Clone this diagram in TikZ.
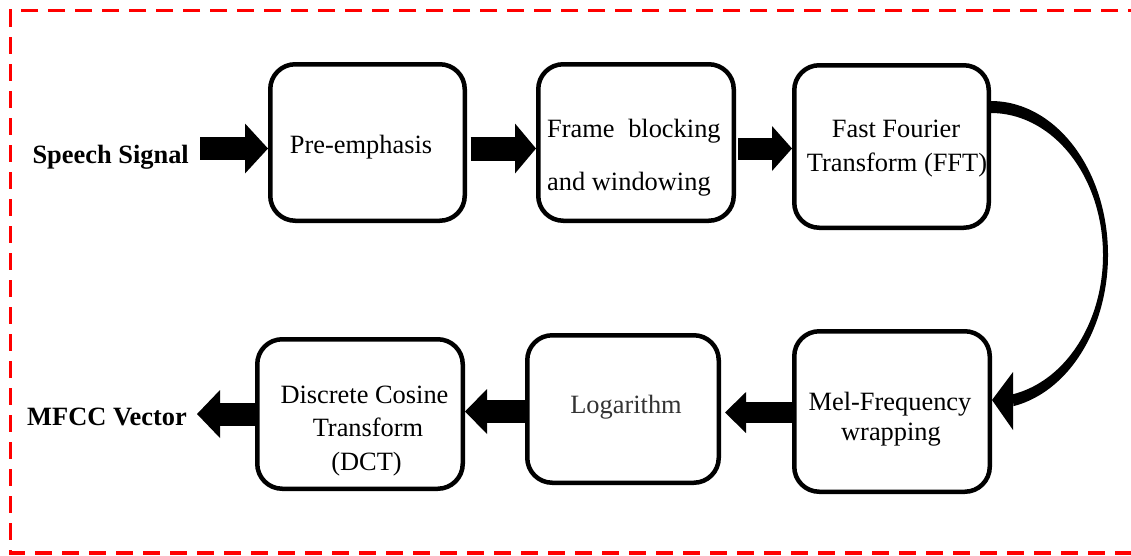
\documentclass[tikz,border=0pt]{standalone}
\usepackage{fontspec}
\setmainfont{Liberation Serif}
\usetikzlibrary{arrows.meta}
\begin{document}
\begin{tikzpicture}[x=1pt,y=-1pt,
  every node/.style={font=\fontsize{26.4}{30}\selectfont},
  box/.style={draw, line width=4.5pt, rounded corners=25pt, inner sep=0pt},
  lbl/.style={anchor=base, inner sep=0pt},
  bold/.style={anchor=base east, inner sep=0pt, font=\fontsize{26.4}{30}\selectfont\bfseries},
  barrow/.style n args={3}{line width=#1, -{Triangle[length=#2, width=#3, line width=0pt]}},
  frame/.style={draw=red, line width=3.5pt, dash pattern=on 17pt off 10pt}
]
\useasboundingbox (0,0) rectangle (1131,555);
\clip (0,0) rectangle (1131,555);
% dashed frame
\draw[frame] (1145,10.7) -- (10.7,10.7) -- (10.7,553) -- (1145,553);

% boxes
\node[box, minimum width=194.5pt, minimum height=156.5pt] (pre)   at (367.5,142.5) {};
\node[box, minimum width=195.5pt, minimum height=156.5pt] (frm)   at (636,142.5) {};
\node[box, minimum width=194.5pt, minimum height=162.5pt] (fft)   at (891.5,146.5) {};
\node[box, minimum width=195.5pt, minimum height=160.5pt] (mel)   at (892,411.5) {};
\node[box, minimum width=191.5pt, minimum height=147.5pt] (log)   at (623,409) {};
\node[box, minimum width=205.5pt, minimum height=149.5pt] (dct)   at (360,414) {};

% texts
\node[bold] (sig)  at (189,163) {Speech Signal};
\node[bold] (mfcc) at (187,425) {MFCC Vector};
\node[lbl] (pret) at (361,153) {Pre-emphasis};
\node[lbl, anchor=base west] (frm1) at (547,137) {Frame\hspace{13.6pt}blocking};
\node[lbl, anchor=base west] (frm2) at (547,190) {and windowing};
\node[lbl] (fft1) at (896,137) {Fast Fourier};
\node[lbl] (fft2) at (897,171) {Transform (FFT)};
\node[lbl] (mel1) at (890,410) {Mel-Frequency};
\node[lbl] (mel2) at (891,440) {wrapping};
\node[lbl, text=black!80] (logt) at (626,413) {Logarithm};
\node[lbl] (dct1) at (364.5,403) {Discrete Cosine};
\node[lbl] (dct2) at (368,436) {Transform};
\node[lbl] (dct3) at (366.5,470) {(DCT)};

% straight block arrows
\draw[barrow={23pt}{23pt}{50pt}] ([xshift=11pt]sig.east |- 0,148.5) -- (pre.west |- 0,148.5);
\draw[barrow={24pt}{21pt}{50pt}] ([xshift=3.5pt]pre.east |- 0,148.5) -- (frm.west |- 0,148.5);
\draw[barrow={22pt}{20pt}{45pt}] ([xshift=2pt]frm.east |- 0,148.5) -- (fft.west |- 0,148.5);
\draw[barrow={21pt}{21pt}{41pt}] (mel.west |- 0,412.5) -- ([xshift=4pt]log.east |- 0,412.5);
\draw[barrow={23pt}{22pt}{45pt}] (log.west |- 0,411.5) -- (dct.east |- 0,411.5);
\draw[barrow={23pt}{23pt}{48pt}] (dct.west |- 0,414) -- ([xshift=10pt]mfcc.east |- 0,414);

% curved arrow FFT -> Mel
\coordinate (tip) at (mel.east |- 0,400);
\fill plot[smooth, samples=80, domain=-90:79] ({991+117*cos(\x)},{255+154*sin(\x)})
   -- plot[smooth, samples=80, domain=78.7:-90] ({991+112*cos(\x)},{255+142*sin(\x)}) -- cycle;
\fill (1013,372) -- (tip) -- (1013,430) -- cycle;
\end{tikzpicture}
\end{document}
